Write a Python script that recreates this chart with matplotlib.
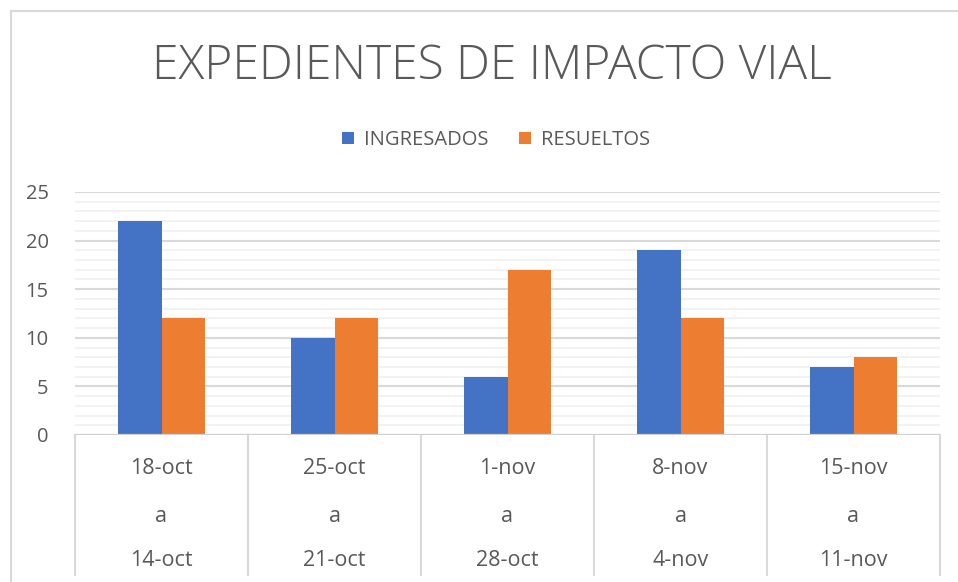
import matplotlib
matplotlib.use("Agg")
import matplotlib.pyplot as plt
import matplotlib.transforms as mtransforms
from matplotlib.lines import Line2D
from matplotlib.patches import Patch
import numpy as np

categories_start = ["18-oct", "25-oct", "1-nov", "8-nov", "15-nov"]
categories_end = ["14-oct", "21-oct", "28-oct", "4-nov", "11-nov"]
series_names = ["INGRESADOS", "RESUELTOS"]
ingresados = [22, 10, 6, 19, 7]
resueltos = [12, 12, 17, 12, 8]
yticks = [0, 5, 10, 15, 20, 25]

BLUE = "#4472C4"
ORANGE = "#ED7D31"
TEXT = "#595959"

plt.rcParams['font.family'] = ['Open Sans', 'DejaVu Sans']

W, H = 958, 582
fig = plt.figure(figsize=(W / 100, H / 100), dpi=100)
fig.patch.set_facecolor("white")

L, R, T, B = 75, 940, 192, 435
ax = fig.add_axes([L / W, 1 - B / H, (R - L) / W, (B - T) / H])

x = np.arange(len(categories_start))
bw = 0.25
ax.bar(x - bw / 2, ingresados, width=bw, color=BLUE, zorder=3)
ax.bar(x + bw / 2, resueltos, width=bw, color=ORANGE, zorder=3)

ax.set_xlim(-0.5, len(x) - 0.5)
ax.set_ylim(0, 25)

# gridlines
for v in range(0, 26):
    if v % 5 == 0:
        ax.axhline(v, color="#D9D9D9", lw=1.5, zorder=1)
    else:
        ax.axhline(v, color="#F0F0F0", lw=1.2, zorder=1)
ax.axhline(0, color="#D0D0D0", lw=1.6, zorder=4)

for s in ax.spines.values():
    s.set_visible(False)
ax.set_xticks([])
ax.set_yticks(yticks)
ax.set_yticklabels([str(v) for v in yticks], color=TEXT, fontsize=14.5)
ax.tick_params(axis="y", length=0, pad=19)

# category separators
trans = mtransforms.blended_transform_factory(ax.transData, ax.transAxes)
bottom_frac = -(575 - B) / (B - T)
for b in np.arange(len(x) + 1) - 0.5:
    ax.plot([b, b], [0, bottom_frac], color="#D9D9D9", lw=1.5,
            transform=trans, clip_on=False, zorder=2)

# category labels
for i in x:
    for txt, off in [(categories_start[i], -(468 - B)), ("a", -(516 - B)), (categories_end[i], -(561 - B))]:
        ax.annotate(txt, xy=(i, 0), xycoords=trans, xytext=(0, off * 0.72),
                    textcoords="offset points", ha="center", va="center",
                    fontsize=15.5, color=TEXT, annotation_clip=False)

# title
fig.text(0.5 * (155 + 828) / W, 1 - 67 / H, "EXPEDIENTES DE IMPACTO VIAL",
         ha="center", va="center", fontsize=34.5, color=TEXT,
         family=["Open Sans", "DejaVu Sans"], fontweight="light")

# legend
handles = [Patch(facecolor=BLUE), Patch(facecolor=ORANGE)]
leg = fig.legend(handles, series_names, loc="center", bbox_to_anchor=(496 / W, 1 - 140 / H),
                 ncol=2, frameon=False, fontsize=14.5, handlelength=0.6, handleheight=0.6,
                 handletextpad=0.5, columnspacing=1.5)
for t in leg.get_texts():
    t.set_color(TEXT)

# outer frame
fig.add_artist(Line2D([11 / W, 11 / W], [0, 1 - 11 / H], color="#D9D9D9", lw=1.5))
fig.add_artist(Line2D([11 / W, 1], [1 - 11 / H, 1 - 11 / H], color="#D9D9D9", lw=1.5))

fig.savefig("out.png", dpi=100, facecolor="white")
